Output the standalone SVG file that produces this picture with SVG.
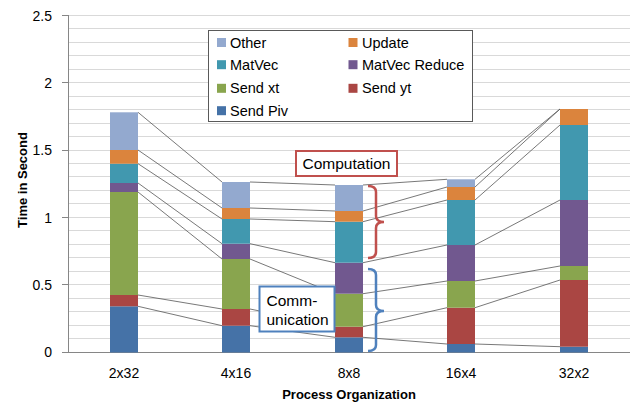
<svg xmlns="http://www.w3.org/2000/svg" width="631" height="403" viewBox="0 0 631 403">
<style>
text{font-family:"Liberation Sans",Arial,sans-serif;fill:#000}
.tick{font-size:14px}
.ttl{font-size:13px;font-weight:bold}
.leg{font-size:14.5px}
.ann{font-size:15.5px}
.grid line{stroke:#d9d9d9;stroke-width:1}
.axis{stroke:#868686;stroke-width:1;fill:none}
.sl line{stroke:#555;stroke-width:0.8}
.piv{fill:#4572A7}.yt{fill:#AA4643}.xt{fill:#89A54E}.red{fill:#71588F}.mv{fill:#4198AF}.upd{fill:#DB843D}.oth{fill:#93A9CF}
</style>
<rect width="631" height="403" fill="#fff"/>
<g id="gridlines" class="grid">
<line x1="68" y1="338.5" x2="630" y2="338.5"/><line x1="68" y1="325.5" x2="630" y2="325.5"/><line x1="68" y1="311.5" x2="630" y2="311.5"/><line x1="68" y1="298.5" x2="630" y2="298.5"/><line x1="62" y1="284.5" x2="630" y2="284.5"/>
<line x1="68" y1="271.5" x2="630" y2="271.5"/><line x1="68" y1="257.5" x2="630" y2="257.5"/><line x1="68" y1="244.5" x2="630" y2="244.5"/><line x1="68" y1="230.5" x2="630" y2="230.5"/><line x1="62" y1="217.5" x2="630" y2="217.5"/>
<line x1="68" y1="203.5" x2="630" y2="203.5"/><line x1="68" y1="190.5" x2="630" y2="190.5"/><line x1="68" y1="176.5" x2="630" y2="176.5"/><line x1="68" y1="163.5" x2="630" y2="163.5"/><line x1="62" y1="150.5" x2="630" y2="150.5"/>
<line x1="68" y1="136.5" x2="630" y2="136.5"/><line x1="68" y1="123.5" x2="630" y2="123.5"/><line x1="68" y1="109.5" x2="630" y2="109.5"/><line x1="68" y1="96.5" x2="630" y2="96.5"/><line x1="62" y1="82.5" x2="630" y2="82.5"/>
<line x1="68" y1="69.5" x2="630" y2="69.5"/><line x1="68" y1="55.5" x2="630" y2="55.5"/><line x1="68" y1="42.5" x2="630" y2="42.5"/><line x1="68" y1="28.5" x2="630" y2="28.5"/><line x1="62" y1="15.5" x2="630" y2="15.5"/>
</g>
<g id="axes">
<path class="axis" d="M68.5,15 V352.5 M62,352.5 H630 M62,15.5 H68 M62,82.5 H68 M62,150.5 H68 M62,217.5 H68 M62,284.5 H68"/>
<text class="tick" x="52" y="20.5" text-anchor="end">2.5</text>
<text class="tick" x="52" y="87.7" text-anchor="end">2</text>
<text class="tick" x="52" y="155" text-anchor="end">1.5</text>
<text class="tick" x="52" y="222.5" text-anchor="end">1</text>
<text class="tick" x="52" y="290" text-anchor="end">0.5</text>
<text class="tick" x="52" y="357.3" text-anchor="end">0</text>
<text class="ttl" transform="translate(26.5,180) rotate(-90)" text-anchor="middle">Time in Second</text>
<text class="tick" x="124" y="378" text-anchor="middle">2x32</text>
<text class="tick" x="236" y="378" text-anchor="middle">4x16</text>
<text class="tick" x="349" y="378" text-anchor="middle">8x8</text>
<text class="tick" x="461" y="378" text-anchor="middle">16x4</text>
<text class="tick" x="574" y="378" text-anchor="middle">32x2</text>
<text class="ttl" x="349" y="399" text-anchor="middle">Process Organization</text>
</g>
<g id="connectors" class="sl">
<line x1="138" y1="112.3" x2="222" y2="182"/><line x1="138" y1="150" x2="222" y2="208"/><line x1="138" y1="163.7" x2="222" y2="219"/><line x1="138" y1="183" x2="222" y2="243.7"/><line x1="138" y1="192" x2="222" y2="259"/><line x1="138" y1="295" x2="222" y2="309"/><line x1="138" y1="306.3" x2="222" y2="325.7"/>
<line x1="250" y1="182" x2="335" y2="185"/><line x1="250" y1="208" x2="335" y2="211"/><line x1="250" y1="219" x2="335" y2="221.7"/><line x1="250" y1="243.7" x2="335" y2="262.7"/><line x1="250" y1="259" x2="335" y2="293.7"/><line x1="250" y1="309" x2="335" y2="326.7"/><line x1="250" y1="325.7" x2="335" y2="337.3"/>
<line x1="363" y1="185" x2="447" y2="179.3"/><line x1="363" y1="211" x2="447" y2="187"/><line x1="363" y1="221.7" x2="447" y2="200"/><line x1="363" y1="262.7" x2="447" y2="245"/><line x1="363" y1="293.7" x2="447" y2="281"/><line x1="363" y1="326.7" x2="447" y2="307.7"/><line x1="363" y1="337.3" x2="447" y2="344"/>
<line x1="475" y1="179.3" x2="560" y2="109"/><line x1="475" y1="187" x2="560" y2="109"/><line x1="475" y1="200" x2="560" y2="125"/><line x1="475" y1="245" x2="560" y2="200"/><line x1="475" y1="281" x2="560" y2="266"/><line x1="475" y1="307.7" x2="560" y2="280"/><line x1="475" y1="344" x2="560" y2="346.7"/>
</g>
<g id="bar-2x32">
<rect class="piv" x="110" y="306.3" width="28" height="46.2"/><rect class="yt" x="110" y="295" width="28" height="11.3"/><rect class="xt" x="110" y="192" width="28" height="103"/><rect class="red" x="110" y="183" width="28" height="9"/><rect class="mv" x="110" y="163.7" width="28" height="19.3"/><rect class="upd" x="110" y="150" width="28" height="13.7"/><rect class="oth" x="110" y="112.3" width="28" height="37.7"/>
</g>
<g id="bar-4x16">
<rect class="piv" x="222" y="325.7" width="28" height="26.8"/><rect class="yt" x="222" y="309" width="28" height="16.7"/><rect class="xt" x="222" y="259" width="28" height="50"/><rect class="red" x="222" y="243.7" width="28" height="15.3"/><rect class="mv" x="222" y="219" width="28" height="24.7"/><rect class="upd" x="222" y="208" width="28" height="11"/><rect class="oth" x="222" y="182" width="28" height="26"/>
</g>
<g id="bar-8x8">
<rect class="piv" x="335" y="337.3" width="28" height="15.2"/><rect class="yt" x="335" y="326.7" width="28" height="10.6"/><rect class="xt" x="335" y="293.7" width="28" height="33"/><rect class="red" x="335" y="262.7" width="28" height="31"/><rect class="mv" x="335" y="221.7" width="28" height="41"/><rect class="upd" x="335" y="211" width="28" height="10.7"/><rect class="oth" x="335" y="185" width="28" height="26"/>
</g>
<g id="bar-16x4">
<rect class="piv" x="447" y="344" width="28" height="8.5"/><rect class="yt" x="447" y="307.7" width="28" height="36.3"/><rect class="xt" x="447" y="281" width="28" height="26.7"/><rect class="red" x="447" y="245" width="28" height="36"/><rect class="mv" x="447" y="200" width="28" height="45"/><rect class="upd" x="447" y="187" width="28" height="13"/><rect class="oth" x="447" y="179.3" width="28" height="7.7"/>
</g>
<g id="bar-32x2">
<rect class="piv" x="560" y="346.7" width="28" height="5.8"/><rect class="yt" x="560" y="280" width="28" height="66.7"/><rect class="xt" x="560" y="266" width="28" height="14"/><rect class="red" x="560" y="200" width="28" height="66"/><rect class="mv" x="560" y="125" width="28" height="75"/><rect class="upd" x="560" y="109" width="28" height="16"/>
</g>
<g id="legend">
<rect x="208.5" y="30.5" width="264" height="91" fill="#fff" stroke="#595959" stroke-width="1"/>
<rect class="oth" x="217" y="38" width="9" height="9"/><text class="leg" x="230" y="47.5">Other</text>
<rect class="upd" x="348.5" y="38" width="9" height="9"/><text class="leg" x="362" y="47.5">Update</text>
<rect class="mv" x="217" y="60.2" width="9" height="9"/><text class="leg" x="230" y="69.7">MatVec</text>
<rect class="red" x="348.5" y="60.2" width="9" height="9"/><text class="leg" x="362" y="69.7">MatVec Reduce</text>
<rect class="xt" x="217" y="83.8" width="9" height="9"/><text class="leg" x="230" y="93.3">Send xt</text>
<rect class="yt" x="348.5" y="83.8" width="9" height="9"/><text class="leg" x="362" y="93.3">Send yt</text>
<rect class="piv" x="217" y="106.2" width="9" height="9"/><text class="leg" x="230" y="115.7">Send Piv</text>
</g>
<g id="computation">
<rect x="296" y="151" width="101" height="25" fill="#fff" stroke="#c0504d" stroke-width="2"/>
<text class="ann" x="302.5" y="168.5">Computation</text>
<path d="M368,186 Q376,186 376,192 L376,216 Q376,222 384,222 Q376,222 376,228 L376,252 Q376,258 368,258" fill="none" stroke="#c0504d" stroke-width="2.5"/>
</g>
<g id="communication">
<rect x="259.5" y="286.5" width="75" height="45" fill="#fff" stroke="#4f81bd" stroke-width="2"/>
<text class="ann" x="266.5" y="305.5">Comm-</text>
<text class="ann" x="266.5" y="324.5">unication</text>
<path d="M368,269 Q376,269 376,275 L376,305 Q376,311 384,311 Q376,311 376,317 L376,345 Q376,351 368,351" fill="none" stroke="#4f81bd" stroke-width="2.5"/>
</g>
</svg>
